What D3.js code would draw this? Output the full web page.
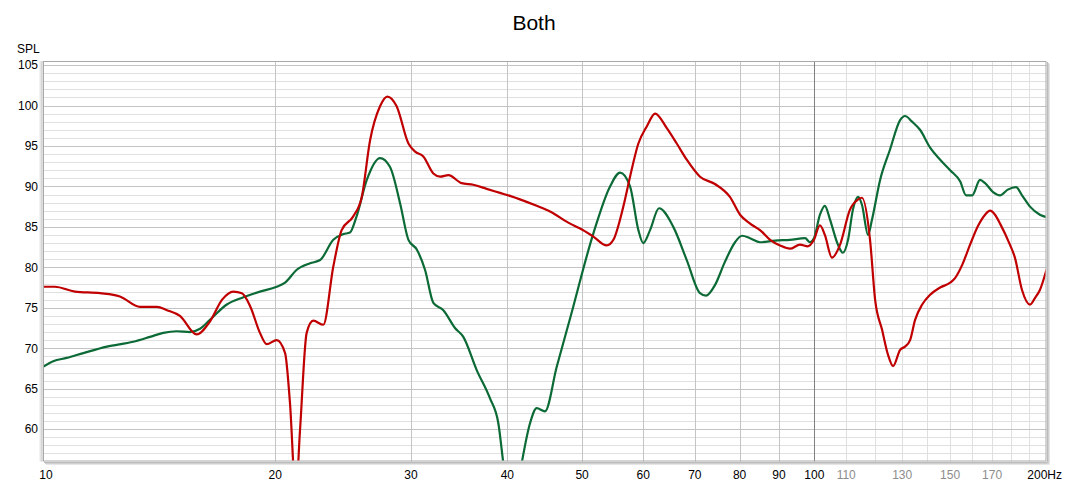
<!DOCTYPE html>
<html><head><meta charset="utf-8">
<script src="https://cdn.jsdelivr.net/npm/d3@7"></script>
<style>
html,body{margin:0;padding:0;background:#fff;}
svg{display:block;font-family:"Liberation Sans",Arial,sans-serif;}
</style></head>
<body><svg id="c" width="1068" height="487"></svg>
<script>
// ---- data ----
const redFreq = [10,10.36,11.0,11.86,12.58,13.36,14.05,14.48,15.05,15.82,16.46,17.07,17.65,18.11,18.56,19.11,19.5,20.09,20.6,20.9,21.27,21.54,21.97,22.41,23.09,23.79,24.39,25.25,25.9,26.55,27.35,27.95,28.74,29.77,30.37,31.12,32.07,32.73,33.55,34.89,36.13,37.6,39.13,40.4,41.53,43.66,45.43,48.24,49.7,51.71,53.81,54.89,56.54,57.69,59.14,60.64,62.17,64.38,66.32,68.33,71.09,74.33,77.73,80.12,82.54,85.04,87.63,90.28,93.0,95.8,98.1,99.9,101.7,103.2,105.4,108.0,111.2,114.0,115.3,118.1,119.9,122.4,124.6,126.5,129.2,131.1,133.1,135.1,138.0,141.3,145.6,150.0,152.3,155.5,159.2,163.0,166.5,169.0,171.5,174.1,179.3,182.0,185.9,190.4,193.2,196.1,200];
const redSPL = [77.6,77.6,77.0,76.8,76.4,75.1,75.1,74.7,74.0,71.7,73.3,76.0,77.0,76.8,75.2,71.9,70.5,71.0,69.4,63.3,52,59.9,71.9,73.4,72.9,80.1,84.6,86.3,88.7,95.7,99.9,101.1,99.9,95.3,94.3,93.7,91.6,91.2,91.4,90.4,90.2,89.7,89.2,88.8,88.4,87.6,86.9,85.4,84.8,83.8,82.7,83.4,87.5,91.2,95.3,97.4,99.0,97.2,95.3,93.3,91.2,90.3,88.7,86.5,85.4,84.6,83.4,82.7,82.3,82.8,82.6,83.4,85.2,84.0,81.2,82.8,87.1,88.4,88.6,83.4,76.0,72.3,69.2,67.8,69.8,70.2,71.0,73.5,75.4,76.6,77.5,78.1,78.7,80.3,82.8,85.1,86.5,87.0,86.5,85.4,82.8,81.2,77.2,75.4,76.2,77.2,79.7];

const greenFreq = [10,10.31,10.73,11.28,12.1,13.09,13.76,14.32,14.9,15.51,15.98,16.46,17.31,18.19,19.11,20.09,20.6,21.33,22.2,22.87,23.79,24.51,25.0,25.5,26.29,27.35,28.18,29.04,29.77,30.52,31.28,32.07,33.04,34.21,35.07,36.5,37.98,38.94,39.52,40.55,41.75,42.79,43.66,44.75,46.35,48.24,51.71,54.35,56.0,57.69,59.14,60.0,61.24,62.9,65.64,68.33,71.09,72.37,74.33,76.6,78.93,80.6,82.54,85.04,88.96,93.0,97.3,98.7,99.9,101.7,103.2,104.8,107.3,108.9,110.6,112.2,114.0,115.3,117.4,118.8,121.7,125.3,129.2,131.1,133.9,137.1,141.3,145.6,150.0,154.6,157.3,160.2,164.0,166.5,170.5,174.1,178.2,182.6,185.9,190.4,196.1,200];
const greenSPL = [67.7,68.4,68.8,69.4,70.2,70.8,71.4,71.9,72.1,72.0,72.4,73.5,75.4,76.3,77.0,77.6,78.1,79.7,80.5,80.9,83.4,84.1,84.3,86.3,90.8,93.5,92.4,87.9,83.4,82.2,79.7,75.6,74.7,72.5,71.4,67.3,63.8,60.7,55.8,48,55.8,60.7,62.6,62.2,67.7,73.7,84.2,90.0,91.7,90.0,84.6,83.0,84.6,87.3,85.0,80.9,76.8,76.5,77.8,80.7,83.1,83.9,83.6,83.1,83.3,83.4,83.6,83.1,83.6,86.5,87.6,85.9,82.8,81.8,83.4,87.1,88.7,87.7,84.0,85.9,90.8,94.5,98.2,98.7,98.0,97.0,94.8,93.3,92.0,90.6,88.9,88.9,90.8,90.4,89.3,88.9,89.6,89.9,88.9,87.5,86.5,86.2];

const xTickMain = [10,20,30,40,50,60,70,80,90,100];
const xTickLight = [110,130,150,170];
const xGridMinor = [110,120,130,140,150,160,170,180,190];
const yTicks = [60,65,70,75,80,85,90,95,100,105];

// ---- layout ----
const L = 43, R = 1046.5, T = 61, B = 461.5;
const svg = d3.select("#c");
const x = d3.scaleLog().domain([10,200]).range([L,R]);
const y = d3.scaleLinear().domain([56,105.5]).range([B,T]);

// title
svg.append("text").attr("x",534).attr("y",30).attr("text-anchor","middle")
  .attr("font-size",21).attr("fill","#000").text("Both");
svg.append("text").attr("x",17).attr("y",53).attr("font-size",12).attr("fill","#000").text("SPL");

// frame shadow
const sh = svg.append("g");
[["#bbb",1],["#d0d0d0",2],["#e6e6e6",3]].forEach(([c,o])=>{
  sh.append("line").attr("x1",R+o).attr("x2",R+o).attr("y1",T+o).attr("y2",B+o).attr("stroke",c);
  sh.append("line").attr("x1",L+o).attr("x2",R+o).attr("y1",B+o).attr("y2",B+o).attr("stroke",c);
  sh.append("line").attr("x1",L-o).attr("x2",L-o).attr("y1",T).attr("y2",B).attr("stroke",c);
});
svg.append("rect").attr("x",L).attr("y",T).attr("width",R-L).attr("height",B-T).attr("fill","#fff");

// grid
const g = svg.append("g");
const minorY = d3.range(57,106).filter(v=>v%5!==0);
g.selectAll(".ym").data(minorY).enter().append("line")
  .attr("x1",L).attr("x2",R).attr("y1",d=>Math.round(y(d))+0.5).attr("y2",d=>Math.round(y(d))+0.5)
  .attr("stroke","#e0e0e0");
g.selectAll(".xm").data(xGridMinor).enter().append("line")
  .attr("y1",T).attr("y2",B).attr("x1",d=>Math.round(x(d))+0.5).attr("x2",d=>Math.round(x(d))+0.5)
  .attr("stroke","#e0e0e0");
g.selectAll(".yM").data(yTicks).enter().append("line")
  .attr("x1",L).attr("x2",R).attr("y1",d=>Math.round(y(d))+0.5).attr("y2",d=>Math.round(y(d))+0.5)
  .attr("stroke","#c4c4c4");
g.selectAll(".xM").data(xTickMain.slice(1)).enter().append("line")
  .attr("y1",T).attr("y2",B).attr("x1",d=>Math.round(x(d))+0.5).attr("x2",d=>Math.round(x(d))+0.5)
  .attr("stroke",d=>d===100?"#808080":"#c4c4c4");

// frame
svg.append("rect").attr("x",L+0.5).attr("y",T+0.5).attr("width",R-L-1).attr("height",B-T-1)
  .attr("fill","none").attr("stroke","#a8a8a8");

// axes labels
const ax = svg.append("g").attr("font-size",12);
ax.selectAll(".xl").data(xTickMain).enter().append("text")
  .attr("x",d=>d===10?x(d)+3:x(d)).attr("y",479).attr("text-anchor","middle").attr("fill","#000").text(d=>d);
ax.selectAll(".xl2").data(xTickLight).enter().append("text")
  .attr("x",d=>x(d)).attr("y",479).attr("text-anchor","middle").attr("fill","#8c8c8c").text(d=>d);
ax.append("text").attr("x",1062).attr("y",479).attr("text-anchor","end").attr("fill","#000").text("200Hz");
ax.selectAll(".yl").data(yTicks).enter().append("text")
  .attr("x",38).attr("y",d=>y(d)).attr("dy","0.36em").attr("text-anchor","end").attr("fill","#000").text(d=>d);

// curves
svg.append("clipPath").attr("id","clip").append("rect").attr("x",L+1).attr("y",T+1).attr("width",R-L-2).attr("height",B-T-2);
const line = d3.line().x(d=>x(d[0])).y(d=>y(d[1])).curve(d3.curveMonotoneX);
const cg = svg.append("g").attr("clip-path","url(#clip)");
cg.append("path").datum(d3.zip(greenFreq,greenSPL)).attr("d",line)
  .attr("fill","none").attr("stroke","#0b6a35").attr("stroke-width",2.2).attr("stroke-linejoin","round");
cg.append("path").datum(d3.zip(redFreq,redSPL)).attr("d",line)
  .attr("fill","none").attr("stroke","#c00000").attr("stroke-width",2.2).attr("stroke-linejoin","round");
</script></body></html>
